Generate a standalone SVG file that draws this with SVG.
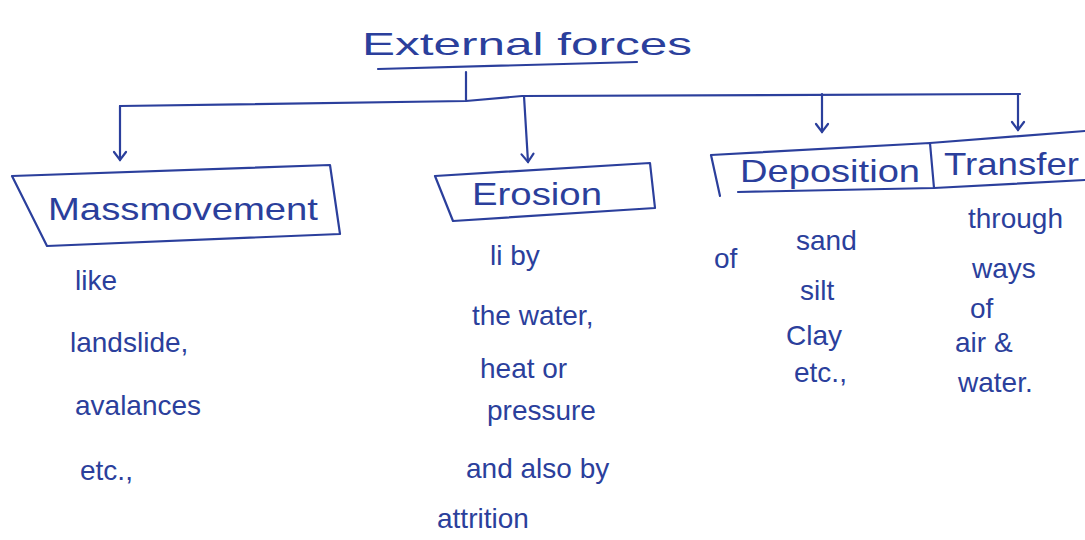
<svg xmlns="http://www.w3.org/2000/svg" width="1085" height="540" viewBox="0 0 1085 540">
<defs>
<style>
.ink{fill:none;stroke:#2b3f9c;stroke-width:2.2;stroke-linecap:round;stroke-linejoin:round}
.t{font-family:"Liberation Sans",Arial,sans-serif;fill:#2b3f9c;font-size:28px}
.h{font-size:32px}
</style>
<marker id="v" viewBox="0 0 16 16" refX="14" refY="8" markerWidth="16" markerHeight="16" markerUnits="userSpaceOnUse" orient="auto">
<path d="M6,2 L14,8 L6,14" fill="none" stroke="#2b3f9c" stroke-width="2.2" stroke-linecap="round"/>
</marker>
</defs>
<rect width="1085" height="540" fill="#ffffff"/>
<g id="title">
<text class="t h" x="362" y="55" textLength="330" lengthAdjust="spacingAndGlyphs">External forces</text>
<path class="ink" d="M378,69 L637,62"/>
</g>
<g id="connectors">
<path class="ink" d="M466,72 L466,100"/>
<path class="ink" d="M120,106 L466,101 L522,96 L1020,94"/>
<path class="ink" d="M120,106 L120,160" marker-end="url(#v)"/>
<path class="ink" d="M524,96 L528,162" marker-end="url(#v)"/>
<path class="ink" d="M822,94 L822,132" marker-end="url(#v)"/>
<path class="ink" d="M1018,94 L1018,130" marker-end="url(#v)"/>
</g>
<g id="massmovement">
<path class="ink" d="M12,176 L330,165 L340,234 L47,246 Z"/>
<text class="t h" x="48" y="220" textLength="270" lengthAdjust="spacingAndGlyphs">Massmovement</text>
<text class="t" x="75" y="290">like</text>
<text class="t" x="70" y="352">landslide,</text>
<text class="t" x="75" y="415">avalances</text>
<text class="t" x="80" y="480">etc.,</text>
</g>
<g id="erosion">
<path class="ink" d="M435,176 L650,163 L655,208 L453,221 Z"/>
<text class="t h" x="472" y="205" textLength="130" lengthAdjust="spacingAndGlyphs">Erosion</text>
<text class="t" x="490" y="265">li by</text>
<text class="t" x="472" y="325">the water,</text>
<text class="t" x="480" y="378">heat or</text>
<text class="t" x="487" y="420">pressure</text>
<text class="t" x="466" y="478">and also by</text>
<text class="t" x="437" y="528">attrition</text>
</g>
<g id="deposition">
<path class="ink" d="M711,155 L930,143 L934,188 L738,192 M711,155 L720,196"/>
<text class="t h" x="740" y="182" textLength="180" lengthAdjust="spacingAndGlyphs">Deposition</text>
<text class="t" x="714" y="268">of</text>
<text class="t" x="796" y="250">sand</text>
<text class="t" x="800" y="300">silt</text>
<text class="t" x="786" y="345">Clay</text>
<text class="t" x="794" y="382">etc.,</text>
</g>
<g id="transfer">
<path class="ink" d="M930,143 L1085,131 M934,188 L1085,180"/>
<text class="t h" x="944" y="175" textLength="135" lengthAdjust="spacingAndGlyphs">Transfer</text>
<text class="t" x="968" y="228">through</text>
<text class="t" x="972" y="278">ways</text>
<text class="t" x="970" y="318">of</text>
<text class="t" x="955" y="352">air &amp;</text>
<text class="t" x="958" y="392">water.</text>
</g>
</svg>
